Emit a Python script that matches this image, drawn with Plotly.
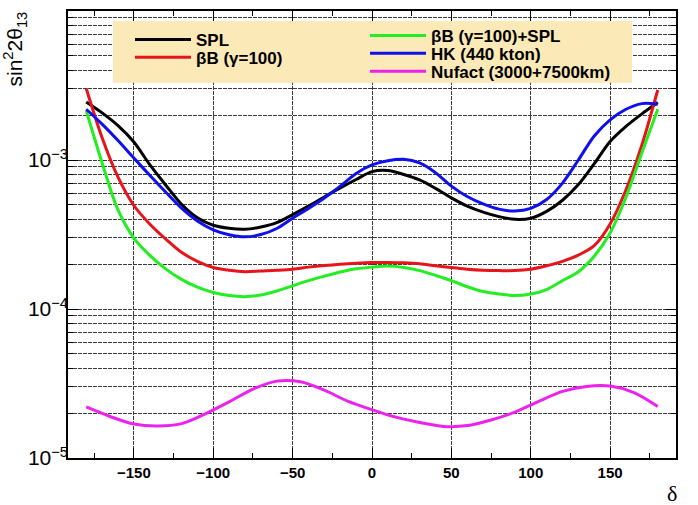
import plotly.graph_objects as go

# ---- data ----
delta = [-180, -170, -160, -150, -140, -130, -120, -110, -100, -90, -80, -70, -60, -50, -40,
         -30, -20, -10, 0, 10, 20, 30, 40, 50, 60, 70, 80, 90, 100, 110, 120, 130, 140, 150,
         160, 170, 180]

spl = [2.45e-3, 2.07e-3, 1.70e-3, 1.32e-3, 9.3e-4, 6.8e-4, 5.05e-4, 4.1e-4, 3.65e-4, 3.48e-4,
       3.43e-4, 3.55e-4, 3.8e-4, 4.3e-4, 4.9e-4, 5.65e-4, 6.5e-4, 7.4e-4, 8.35e-4, 8.5e-4,
       8.0e-4, 7.35e-4, 6.45e-4, 5.57e-4, 4.9e-4, 4.47e-4, 4.17e-4, 4.0e-4, 4.07e-4, 4.52e-4,
       5.37e-4, 6.84e-4, 9.44e-4, 1.33e-3, 1.68e-3, 2.04e-3, 2.43e-3]

beta_beam = [3.02e-3, 1.41e-3, 7.67e-4, 4.95e-4, 3.72e-4, 2.95e-4, 2.40e-4, 2.09e-4, 1.90e-4,
             1.82e-4, 1.78e-4, 1.80e-4, 1.82e-4, 1.85e-4, 1.91e-4, 1.96e-4, 2.0e-4, 2.03e-4,
             2.05e-4, 2.05e-4, 2.04e-4, 2.01e-4, 1.95e-4, 1.90e-4, 1.85e-4, 1.82e-4, 1.81e-4,
             1.81e-4, 1.85e-4, 1.95e-4, 2.09e-4, 2.30e-4, 2.66e-4, 3.72e-4, 6.31e-4, 1.26e-3,
             2.95e-3]

beta_spl = [2.14e-3, 9.55e-4, 4.62e-4, 2.99e-4, 2.29e-4, 1.86e-4, 1.58e-4, 1.40e-4, 1.29e-4,
            1.23e-4, 1.21e-4, 1.24e-4, 1.32e-4, 1.43e-4, 1.55e-4, 1.66e-4, 1.77e-4, 1.86e-4,
            1.91e-4, 1.94e-4, 1.90e-4, 1.81e-4, 1.68e-4, 1.55e-4, 1.41e-4, 1.31e-4, 1.26e-4,
            1.23e-4, 1.26e-4, 1.35e-4, 1.55e-4, 1.78e-4, 2.26e-4, 3.24e-4, 5.62e-4, 1.12e-3,
            2.19e-3]

hk = [2.19e-3, 1.74e-3, 1.35e-3, 1.03e-3, 7.9e-4, 6.1e-4, 4.75e-4, 3.9e-4, 3.4e-4, 3.15e-4,
      3.05e-4, 3.16e-4, 3.47e-4, 4.07e-4, 4.73e-4, 5.56e-4, 6.68e-4, 8.13e-4, 9.27e-4, 9.89e-4,
      1.01e-3, 9.55e-4, 8.22e-4, 6.68e-4, 5.69e-4, 5.07e-4, 4.68e-4, 4.54e-4, 4.73e-4, 5.43e-4,
      7.0e-4, 1.0e-3, 1.45e-3, 1.86e-3, 2.19e-3, 2.39e-3, 2.37e-3]

delta_nf = [-180, -165, -150, -135, -120, -105, -90, -75, -60, -45, -30, -15, 0, 15, 30, 45,
            60, 75, 90, 105, 120, 135, 150, 165, 180]
nufact = [2.20e-5, 1.90e-5, 1.69e-5, 1.64e-5, 1.70e-5, 1.98e-5, 2.38e-5, 2.90e-5, 3.28e-5,
          3.25e-5, 2.85e-5, 2.40e-5, 2.11e-5, 1.88e-5, 1.73e-5, 1.63e-5, 1.65e-5, 1.80e-5,
          2.03e-5, 2.40e-5, 2.80e-5, 3.02e-5, 3.04e-5, 2.75e-5, 2.22e-5]

names = ["SPL", "βB (γ=100)", "βB (γ=100)+SPL", "HK (440 kton)", "Nufact (3000+7500km)"]
colors = ["#000000", "#e8141c", "#22ee22", "#1010ee", "#ee22ee"]

x_tick_vals = [-150, -100, -50, 0, 50, 100, 150]
y_tick_vals = [1e-5, 1e-4, 1e-3]
y_tick_text = ["10<sup>−5</sup>", "10<sup>−4</sup>", "10<sup>−3</sup>"]
y_minor_vals = [k * 10.0 ** e for e in (-5, -4, -3) for k in range(2, 10)]

# ---- layout geometry (px) ----
W, H = 698, 505
ML, MR, MT, MB = 68, 22, 9, 47
PW, PH = W - ML - MR, H - MT - MB


def px2x(px):
    return (px - ML) / PW


def py2y(py):
    return (H - MB - py) / PH


series = [(delta, spl), (delta, beta_beam), (delta, beta_spl), (delta, hk), (delta_nf, nufact)]
legend_ids = ["legend", "legend2", "legend3", "legend4", "legend5"]
# legend item anchor positions (px of the item start, center py)
legend_pos = [(130, 38), (130, 56), (365, 34), (365, 52), (365, 70)]

fig = go.Figure()
for (xs, ys), name, col, lid in zip(series, names, colors, legend_ids):
    fig.add_trace(go.Scatter(x=xs, y=ys, mode="lines", name=name,
                             line=dict(color=col, width=3, shape="spline", smoothing=0.9),
                             legend=lid))

legend_font = dict(family="Liberation Sans, Arial, sans-serif", size=17, color="black", weight="bold")
layout_legends = {}
for lid, (lx, ly) in zip(legend_ids, legend_pos):
    layout_legends[lid] = dict(x=px2x(lx), y=py2y(ly), xanchor="left", yanchor="middle",
                               bgcolor="rgba(0,0,0,0)", borderwidth=0, font=legend_font,
                               itemwidth=56, itemclick=False)

grid_col = "#3a3a3a"
fig.update_layout(
    width=W, height=H,
    margin=dict(l=ML, r=MR, t=MT, b=MB),
    paper_bgcolor="white", plot_bgcolor="white",
    showlegend=True,
    **layout_legends,
    xaxis=dict(range=[-191.5, 191.5], tickmode="array", tickvals=x_tick_vals,
               ticks="inside", ticklen=10, tickwidth=1, tickcolor="black",
               showline=True, linecolor="black", linewidth=1.5, mirror="ticks",
               showgrid=True, gridcolor=grid_col, gridwidth=1, griddash="4px,1px",
               zeroline=False,
               tickfont=dict(family="Liberation Sans, Arial, sans-serif", size=15,
                             color="black", weight="bold"),
               minor=dict(dtick=25, tick0=0, ticks="inside", ticklen=5, tickcolor="black",
                          showgrid=False)),
    yaxis=dict(type="log", range=[-5, -2], tickmode="array", tickvals=y_tick_vals,
               ticktext=y_tick_text, ticks="inside", ticklen=10, tickwidth=1,
               tickcolor="black", showline=True, linecolor="black", linewidth=1.5,
               mirror="ticks", showgrid=True, gridcolor=grid_col, gridwidth=1,
               griddash="4px,1px", zeroline=False, ticklabelstandoff=-6,
               tickfont=dict(family="Liberation Sans, Arial, sans-serif", size=21,
                             color="black"),
               minor=dict(tickmode="array", tickvals=y_minor_vals, ticks="inside",
                          ticklen=5, tickcolor="black", showgrid=True, gridcolor=grid_col,
                          gridwidth=1, griddash="4px,1px")),
    shapes=[dict(type="rect", xref="paper", yref="paper", layer="above",
                 x0=px2x(113), x1=px2x(632), y0=py2y(81), y1=py2y(19),
                 fillcolor="#fbe9b7", line=dict(width=0))],
    annotations=[
        dict(text="sin<sup>2</sup>2θ<sub>13</sub>", xref="paper", yref="paper",
             x=px2x(15), y=py2y(8), xanchor="center", yanchor="top", textangle=-90,
             showarrow=False,
             font=dict(family="Liberation Sans, Arial, sans-serif", size=21, color="black")),
        dict(text="δ", xref="paper", yref="paper", x=px2x(672), y=py2y(494),
             xanchor="center", yanchor="middle", showarrow=False,
             font=dict(family="Liberation Serif, Times New Roman, serif", size=22,
                       color="black")),
    ],
)

fig.write_html("out.html", config={"displayModeBar": False},
               post_script="document.body.style.margin='0';")
